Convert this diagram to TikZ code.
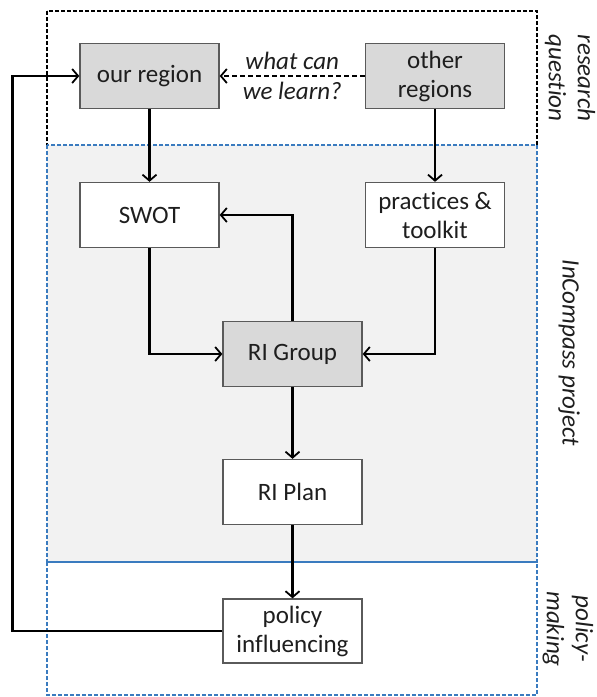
\documentclass[tikz,border=0pt]{standalone}
\usepackage{fontspec}
\setmainfont{Carlito}[Ligatures=NoCommon]
\usetikzlibrary{arrows.meta}
\definecolor{nodegray}{HTML}{D9D9D9}
\definecolor{regiongray}{HTML}{F2F2F2}
\definecolor{dashblue}{HTML}{3A7BBF}
\definecolor{bordergray}{HTML}{5A5A5A}
\definecolor{txt}{HTML}{1E1E1E}
\begin{document}
\begin{tikzpicture}[x=1pt,y=-1pt,
  box/.style={draw=bordergray,line width=1.3pt,minimum width=139pt,minimum height=65pt,align=center,inner sep=0pt,text=txt,font=\fontsize{25}{29}\selectfont},
  graybox/.style={box,fill=nodegray},
  whitebox/.style={box,fill=white},
  conn/.style={line width=2.2pt,-{Straight Barb[length=6pt,width=14pt,line width=1.8pt]}},
  region/.style={dash pattern=on 4pt off 2pt,line width=1.2pt},
  side/.style={rotate=-90,align=center,text=txt,font=\itshape\fontsize{25}{29}\selectfont}
]
\useasboundingbox (0,0) rectangle (597,697);
% regions
\draw[region,draw=black] (47,11) rectangle (537,145);
\draw[region,draw=dashblue,fill=regiongray] (47,145) rectangle (537,562);
\draw[region,draw=dashblue] (47,562) rectangle (537,695);
% side labels
\node[side] (lq) at (570,78) {research\\question};
\node[side] (lp) at (569,353) {InCompass project};
\node[side] (lm) at (568,629) {policy-\\making};
% nodes
\node[graybox] (our) at (149.5,76) {our region};
\node[graybox] (oth) at (435,76) {other\\regions};
\node[whitebox] (swot) at (149.5,215) {SWOT};
\node[whitebox] (prac) at (435,215) {practices \&\\toolkit};
\node[graybox] (rig) at (292.5,354) {RI Group};
\node[whitebox] (rip) at (292.5,492) {RI Plan};
\node[whitebox,minimum height=64pt] (pol) at (292.5,631) {policy\\influencing};
\coordinate (loopx) at (12.5,0);
% connectors
\draw[conn,dash pattern=on 5pt off 3pt,line width=1.8pt] (oth.west) -- (our.east)
  node[midway,align=center,text=txt,font=\itshape\fontsize{25}{30}\selectfont] (lbl) {what can\\we learn?};
\draw[conn] (our) -- (swot);
\draw[conn] (oth) -- (prac);
\draw[conn] (swot.south) |- (rig.west);
\draw[conn] (prac.south) |- (rig.east);
\draw[conn] (rig.north) |- (swot.east);
\draw[conn] (rig) -- (rip);
\draw[conn] (rip) -- (pol);
\draw[conn] (pol.west) -- (pol.west -| loopx) |- (our.west);
\end{tikzpicture}
\end{document}
